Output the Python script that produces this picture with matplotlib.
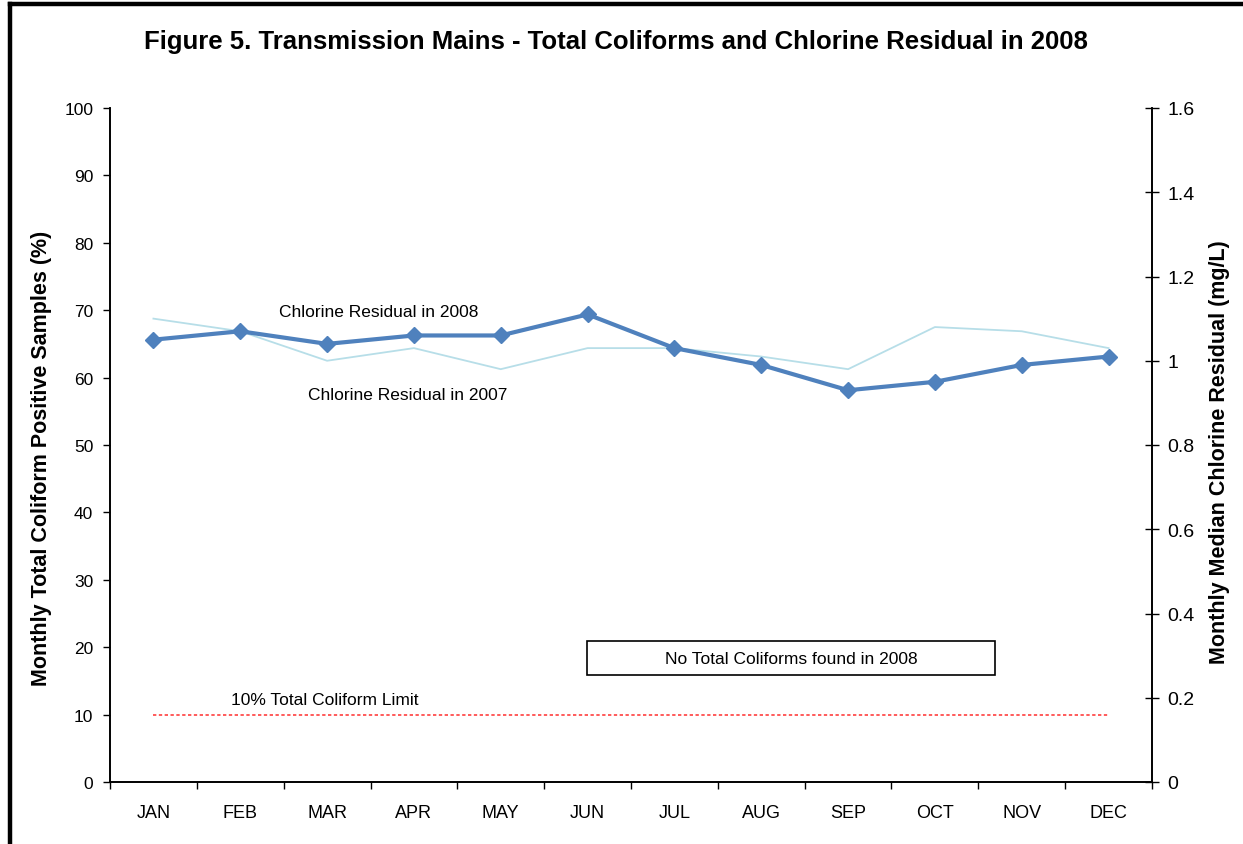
import matplotlib
matplotlib.use("Agg")
import matplotlib.pyplot as plt
from matplotlib.lines import Line2D
from matplotlib.patches import Rectangle
from matplotlib.ticker import FixedLocator, NullFormatter

months = ["JAN", "FEB", "MAR", "APR", "MAY", "JUN", "JUL", "AUG", "SEP", "OCT", "NOV", "DEC"]
cl_2008 = [1.05, 1.07, 1.04, 1.06, 1.06, 1.11, 1.03, 0.99, 0.93, 0.95, 0.99, 1.01]
cl_2007 = [1.10, 1.07, 1.00, 1.03, 0.98, 1.03, 1.03, 1.01, 0.98, 1.08, 1.07, 1.03]
coliform_limit = [10] * 12
left_ticks = [0, 10, 20, 30, 40, 50, 60, 70, 80, 90, 100]
right_ticks = [0, 0.2, 0.4, 0.6, 0.8, 1.0, 1.2, 1.4, 1.6]
right_labels = ["0", "0.2", "0.4", "0.6", "0.8", "1", "1.2", "1.4", "1.6"]

plt.rcParams['font.family'] = ['Liberation Sans', 'DejaVu Sans']

W, H = 1243, 845
fig = plt.figure(figsize=(W/100, H/100), dpi=100)
ax = fig.add_axes([110/W, 1-783/H, (1152-110)/W, (783-109)/H])
ax2 = ax.twinx()

x = list(range(len(months)))

# left axis
ax.set_xlim(-0.5, 11.5)
ax.set_ylim(0, 100)
ax.set_yticks(left_ticks)
ax.set_yticklabels([str(t) for t in left_ticks], fontsize=12.5)
ax.tick_params(axis='y', direction='out', length=5, width=1, pad=7)
ax.set_xticks(x)
ax.set_xticklabels(months, fontsize=13)
ax.tick_params(axis='x', which='major', length=0, pad=16)
ax.xaxis.set_minor_locator(FixedLocator([i - 0.5 for i in range(13)]))
ax.xaxis.set_minor_formatter(NullFormatter())
ax.tick_params(axis='x', which='minor', direction='out', length=5, width=1)
ax.spines['top'].set_visible(False)
ax2.spines['top'].set_visible(False)
for s in ['left', 'bottom', 'right']:
    ax.spines[s].set_linewidth(1.2)
    ax2.spines[s].set_linewidth(1.2)
ax.set_ylabel("Monthly Total Coliform Positive Samples (%)", fontsize=15.5, fontweight='bold')
ax.yaxis.set_label_coords(-0.056, 0.481)

# coliform limit
ax.plot(x, coliform_limit, color='#FF4040', linestyle=(0, (2, 1.5)), linewidth=1.2, zorder=2)
fig.text(325/W, 1-700.7/H, "10% Total Coliform Limit", fontsize=12.5, ha='center', va='center')

# right axis
ax2.set_ylim(0, 1.6)
ax2.set_yticks(right_ticks)
ax2.set_yticklabels(right_labels, fontsize=14)
ax2.tick_params(axis='y', direction='inout', length=10, width=1, pad=6)
ax2.set_ylabel("Monthly Median Chlorine Residual (mg/L)", fontsize=15.5, fontweight='bold')
ax2.yaxis.set_label_coords(1.055, 0.491)

ax2.plot(x, cl_2007, color='#B7DEE8', linewidth=1.3, zorder=3)
ax2.plot(x, cl_2008, color='#4F81BD', linewidth=3.0, marker='D', markersize=8,
         markerfacecolor='#4F81BD', markeredgecolor='#4F81BD', zorder=4)

# annotations
fig.text(379/W, 1-312.7/H, "Chlorine Residual in 2008", fontsize=12.5, ha='center', va='center')
fig.text(408/W, 1-396/H, "Chlorine Residual in 2007", fontsize=12.5, ha='center', va='center')
fig.add_artist(Rectangle((587/W, 1-676/H), (995-587)/W, (676-642)/H, transform=fig.transFigure,
                         facecolor='white', edgecolor='black', linewidth=1.2, zorder=5))
fig.text(791/W, 1-660/H, "No Total Coliforms found in 2008", fontsize=12.5, ha='center', va='center',
         zorder=6)

fig.text(616/W, 1-42/H, "Figure 5. Transmission Mains - Total Coliforms and Chlorine Residual in 2008",
         fontsize=18.5, fontweight='bold', ha='center', va='center')

# frame (cropped border)
fig.add_artist(Line2D([10/W, 10/W], [0, 1-5/H], color='black', linewidth=3.2,
                      transform=fig.transFigure))
fig.add_artist(Line2D([10/W, 1], [1-5/H, 1-5/H], color='black', linewidth=3.2,
                      transform=fig.transFigure))

fig.savefig("out.png", dpi=100)
